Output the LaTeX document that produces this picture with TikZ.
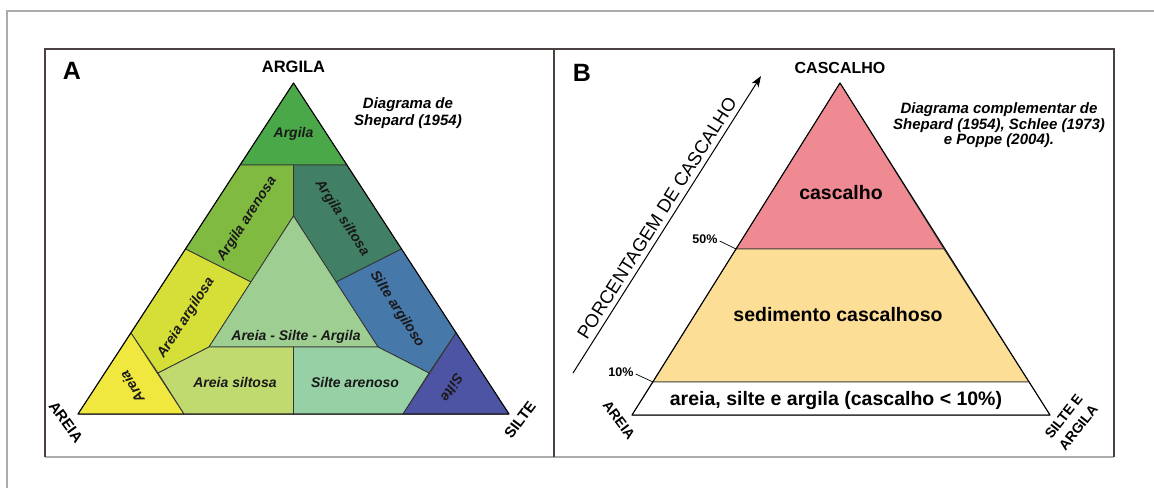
\documentclass[tikz,border=0pt]{standalone}
\usepackage{fontspec}
\setmainfont{Liberation Sans}
\usetikzlibrary{arrows.meta,calc}
\definecolor{cArgila}{RGB}{74,168,72}
\definecolor{cArgAre}{RGB}{128,186,64}
\definecolor{cArgSil}{RGB}{66,128,102}
\definecolor{cAreArg}{RGB}{214,222,56}
\definecolor{cASA}{RGB}{158,206,146}
\definecolor{cSilArg}{RGB}{70,120,170}
\definecolor{cAreia}{RGB}{240,232,62}
\definecolor{cAreSil}{RGB}{192,218,112}
\definecolor{cSilAre}{RGB}{150,208,164}
\definecolor{cSilte}{RGB}{78,84,164}
\definecolor{cCasc}{RGB}{240,138,146}
\definecolor{cSed}{RGB}{252,222,150}
\definecolor{frameDark}{RGB}{75,65,65}
\definecolor{frameGray}{RGB}{172,172,172}
\begin{document}
\begin{tikzpicture}[x=1pt,y=-1pt,
  region/.style={draw=black!80, line width=0.8pt, line join=round},
  outline/.style={draw=black, line width=1pt, line join=round},
  lbl/.style={font=\fontsize{14}{16}\selectfont\bfseries\itshape, inner sep=0pt, text=black!90},
  corner/.style={font=\fontsize{15}{16}\selectfont\bfseries, inner sep=0pt},
  blbl/.style={font=\fontsize{19.5}{22}\selectfont\bfseries, inner sep=0pt, anchor=base},
  pct/.style={font=\fontsize{12.5}{14}\selectfont\bfseries, inner sep=0pt},
  desc/.style={font=\fontsize{15}{17}\selectfont\bfseries\itshape, align=center, inner sep=0pt},
  panel/.style={font=\fontsize{25}{28}\selectfont\bfseries, inner sep=0pt}]
\useasboundingbox (0,0) rectangle (1154,488);
\fill[white] (0,0) rectangle (1154,488);
% outer gray frame
\draw[frameGray, line width=1.4pt] (7,488) -- (7,11) -- (1154,11);
% panel box
\draw[frameGray, line width=1.2pt] (45,457) -- (1114,457);
\draw[frameDark, line width=1.4pt] (45,457) -- (45,49) -- (1114,49) -- (1114,457);
\draw[frameDark, line width=1.4pt] (554,49) -- (554,457);

% ---------- Panel A coordinates ----------
\coordinate (T) at (293.5,83);
\coordinate (L) at (78,414);
\coordinate (R) at (509,414);
\coordinate (a1) at (240,165);
\coordinate (a2) at (347,165);
\coordinate (m1) at (293.5,165);
\coordinate (I) at (293.5,216);
\coordinate (b1) at (185.5,249);
\coordinate (b2) at (251,282);
\coordinate (c1) at (401.5,249);
\coordinate (c2) at (336,282);
\coordinate (IL) at (209,347);
\coordinate (IR) at (378,347);
\coordinate (d1) at (131,333);
\coordinate (d2) at (158,373);
\coordinate (e1) at (184,414);
\coordinate (M) at (293.5,347);
\coordinate (Mb) at (293.5,414);
\coordinate (f1) at (456,333);
\coordinate (f2) at (429,373);
\coordinate (g1) at (403,414);

\path[region, fill=cArgila] (T) -- (a2) -- (a1) -- cycle;
\path[region, fill=cArgAre] (a1) -- (m1) -- (I) -- (b2) -- (b1) -- cycle;
\path[region, fill=cArgSil] (m1) -- (a2) -- (c1) -- (c2) -- (I) -- cycle;
\path[region, fill=cAreArg] (b1) -- (b2) -- (IL) -- (d2) -- (d1) -- cycle;
\path[region, fill=cSilArg] (c2) -- (c1) -- (f1) -- (f2) -- (IR) -- cycle;
\path[region, fill=cASA] (I) -- (IR) -- (IL) -- cycle;
\path[region, fill=cAreia] (L) -- (d1) -- (e1) -- cycle;
\path[region, fill=cAreSil] (d2) -- (IL) -- (M) -- (Mb) -- (e1) -- cycle;
\path[region, fill=cSilAre] (M) -- (IR) -- (f2) -- (g1) -- (Mb) -- cycle;
\path[region, fill=cSilte] (f1) -- (R) -- (g1) -- cycle;
\path[outline] (T) -- (R) -- (L) -- cycle;

\node[panel] (pA) at (72,71) {A};
\node[corner, font=\fontsize{16.5}{18}\selectfont\bfseries] (nArgila) at (293.5,67) {ARGILA};
\node[corner, rotate=-54] (nAreiaA) at (66,422) {AREIA};
\node[corner, rotate=53] (nSilteA) at (520,420) {SILTE};
\node[desc] (descA) at (408,113.5) {Diagrama de\\Shepard (1954)};

\node[lbl] (rArgila) at (293.5,134) {Argila};
\node[lbl, rotate=57] (rArgAre) at (247,219) {Argila arenosa};
\node[lbl, rotate=-57] (rArgSil) at (342,218) {Argila siltosa};
\node[lbl, rotate=57] (rAreArg) at (186,318) {Areia argilosa};
\node[lbl, rotate=-57] (rSilArg) at (397,309) {Silte argiloso};
\node[lbl] (rASA) at (296,337) {Areia - Silte - Argila};
\node[lbl, rotate=120] (rAreia) at (132,387) {Areia};
\node[lbl, rotate=-122] (rSilte) at (452,388) {Silte};
\node[lbl] (rAreSil) at (235,382) {Areia siltosa};
\node[lbl] (rSilAre) at (355,382) {Silte arenoso};

% ---------- Panel B ----------
\coordinate (Tb) at (840,83);
\coordinate (Lb) at (632,415);
\coordinate (Rb) at (1050,415);
\coordinate (p50L) at (736,249);
\coordinate (p50R) at (944,249);
\coordinate (p10L) at (653,382);
\coordinate (p10R) at (1029,382);

\path[region, fill=cCasc] (Tb) -- (p50R) -- (p50L) -- cycle;
\path[region, fill=cSed] (p50L) -- (p50R) -- (p10R) -- (p10L) -- cycle;
\path[region, fill=white] (p10L) -- (p10R) -- (Rb) -- (Lb) -- cycle;
\path[outline] (Tb) -- (Rb) -- (Lb) -- cycle;

\node[panel] (pB) at (582,73) {B};
\node[corner, font=\fontsize{16}{18}\selectfont\bfseries] (nCasc) at (840,68) {CASCALHO};
\node[corner, font=\fontsize{14}{15}\selectfont\bfseries, rotate=-53] (nAreiaB) at (619,420) {AREIA};
\node[corner, font=\fontsize{14}{18.5}\selectfont\bfseries, align=center, rotate=52] (nSilteB) at (1071,422) {SILTE E\\ARGILA};
\node[desc, font=\fontsize{15}{15.5}\selectfont\bfseries\itshape] (descB) at (999,125.5) {Diagrama complementar de\\Shepard (1954), Schlee (1973)\\e Poppe (2004).};

\node[blbl] (rCasc) at (841,199) {cascalho};
\node[blbl] (rSed) at (838,321) {sedimento cascalhoso};
\node[blbl] (rASAb) at (836,405) {areia, silte e argila (cascalho < 10\%)};

\node[pct] (l50) at (705,239) {50\%};
\node[pct] (l10) at (621,372) {10\%};
\draw[black, line width=0.7pt] ($(l50.east)+(2,2)$) -- (p50L);
\draw[black, line width=0.7pt] ($(l10.east)+(2,2)$) -- (p10L);

\coordinate (arrS) at (573,373);
\coordinate (arrE) at (761,76);
\draw[black, line width=1pt, -{Stealth[length=11pt,width=8pt,inset=3pt]}] (arrS) -- (arrE);
\node[font=\fontsize{18.5}{20}\selectfont, inner sep=0pt, anchor=base, rotate=57.7] (porc) at (662.3,221.6) {PORCENTAGEM DE CASCALHO};
\end{tikzpicture}
\end{document}
